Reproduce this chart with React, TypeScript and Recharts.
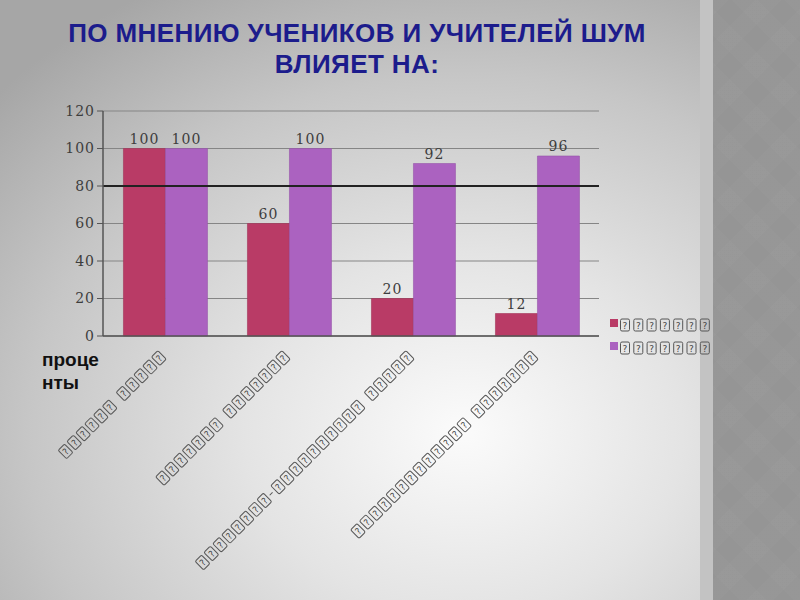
import React from 'react'
import { Bar, BarChart, CartesianGrid, LabelList, Legend, ReferenceLine, XAxis, YAxis } from 'recharts'

// category names came through as unreadable glyphs in the source slide
const categories = ['?????? ?????', '??????? ???????', '????????-?????????? ?????', '????????????? ???????']
const pupils = [100, 60, 20, 12]
const teachers = [100, 100, 92, 96]
const seriesNames = ['???????', '???????']
const yTicks = [0, 20, 40, 60, 80, 100, 120]
const edgeTicks = [0, 1, 2, 3, 4]

const COLORS = { pupils: '#b93b66', teachers: '#ab62c0', text: '#3d3d3d', grid: '#858585', axis: '#555' }

const data = categories.map((name, i) => ({ name, pupils: pupils[i], teachers: teachers[i] }))

// draws a string as the "missing glyph" boxes seen in the reference
function BoxChars({
  text,
  x,
  y,
  rotate = 0,
  anchor = 'start',
  step = 12.5,
}: {
  text: string
  x: number
  y: number
  rotate?: number
  anchor?: 'start' | 'end'
  step?: number
}) {
  const charStep = (c: string) => (c === ' ' || c === '-' ? 7 : step)
  const chars = text.split('')
  const total = chars.reduce((s, c) => s + charStep(c), 0)
  let pos = anchor === 'end' ? -total : 0
  const items = chars.map((c, i) => {
    const px = pos
    pos += charStep(c)
    if (c === ' ') return null
    if (c === '-') return <line key={i} x1={px + 1} x2={px + 5} y1={-5} y2={-5} stroke="#555" strokeWidth={1} />
    return (
      <g key={i}>
        <rect x={px + 1.5} y={-11} width={9} height={12} rx={1.5} fill="none" stroke="#555" strokeWidth={1} />
        <text x={px + 6} y={-1.5} fontSize={9} textAnchor="middle" fill="#444" fontFamily="DejaVu Sans">?</text>
      </g>
    )
  })
  return <g transform={`translate(${x},${y}) rotate(${rotate})`}>{items}</g>
}

function CategoryTick(props: any) {
  const { x, y, payload } = props
  return <BoxChars text={payload.value} x={x + 2} y={y + 13} rotate={-45} anchor="end" />
}

function EmptyTick() {
  return <g />
}

function LegendContent() {
  const fills = [COLORS.pupils, COLORS.teachers]
  return (
    <svg width={110} height={40} style={{ overflow: 'visible' }}>
      {seriesNames.map((n, i) => (
        <g key={i}>
          <rect x={0} y={3 + i * 23} width={8} height={8} fill={fills[i]} />
          <BoxChars text={n} x={9} y={14 + i * 23} step={13.3} />
        </g>
      ))}
    </svg>
  )
}

const tickFont = { fontSize: 14, fill: COLORS.text, fontFamily: 'DejaVu Serif', letterSpacing: 1 }

export default function App() {
  return (
    <div
      style={{
        position: 'absolute',
        left: 0,
        top: 0,
        width: 800,
        height: 600,
        overflow: 'hidden',
        background: 'radial-gradient(ellipse 78% 85% at 58% 72%, #fbfbfb 0%, #e4e4e4 35%, #c6c6c6 70%, #a6a6a6 100%)',
      }}
    >
      <div style={{ position: 'absolute', left: 700, top: 0, width: 13, height: 600, background: '#c3c3c3' }} />
      <div
        style={{
          position: 'absolute',
          left: 713,
          top: 0,
          width: 87,
          height: 600,
          backgroundColor: '#979797',
          backgroundImage:
            'repeating-linear-gradient(45deg, rgba(0,0,0,0.008) 0 19px, rgba(255,255,255,0.008) 19px 38px), repeating-linear-gradient(-45deg, rgba(0,0,0,0.008) 0 19px, rgba(255,255,255,0.008) 19px 38px)',
        }}
      />
      <div
        style={{
          position: 'absolute',
          left: 0,
          top: 18,
          width: 714,
          textAlign: 'center',
          fontFamily: '"Liberation Sans", Arial, sans-serif',
          fontWeight: 'bold',
          fontSize: 26,
          letterSpacing: 0.4,
          lineHeight: '31px',
          color: '#1c1c8c',
        }}
      >
        ПО МНЕНИЮ УЧЕНИКОВ И УЧИТЕЛЕЙ ШУМ
        <br />
        ВЛИЯЕТ НА:
      </div>
      <div
        style={{
          position: 'absolute',
          left: 42,
          top: 348,
          fontFamily: '"Liberation Sans", Arial, sans-serif',
          fontWeight: 'bold',
          fontSize: 19,
          lineHeight: '23px',
          color: '#111',
        }}
      >
        проце
        <br />
        нты
      </div>
      <div style={{ position: 'absolute', left: 0, top: 0 }}>
        <BarChart
          width={800}
          height={600}
          data={data}
          margin={{ top: 111, right: 201, left: 43, bottom: 0 }}
          barCategoryGap="16.5%"
          barGap={0}
        >
          <CartesianGrid vertical={false} stroke={COLORS.grid} strokeWidth={1.2} />
          <XAxis xAxisId="edges" type="number" domain={[0, 4]} ticks={edgeTicks} height={0} axisLine={false} tick={<EmptyTick />} tickLine={{ stroke: COLORS.axis }} tickSize={5} />
          <XAxis dataKey="name" height={264} interval={0} tick={<CategoryTick />} tickLine={false} axisLine={{ stroke: COLORS.axis, strokeWidth: 1.5 }} />
          <YAxis
            domain={[0, 120]}
            ticks={yTicks}
            width={60}
            tick={tickFont}
            tickSize={6}
            axisLine={{ stroke: COLORS.axis, strokeWidth: 1.5 }}
            tickLine={{ stroke: COLORS.axis }}
          />
          <ReferenceLine y={80} stroke="#222" strokeWidth={2} />
          <Legend
            layout="vertical"
            align="center"
            verticalAlign="middle"
            content={<LegendContent />}
            wrapperStyle={{ left: 610, top: 316, width: 110, height: 40 }}
          />
          <Bar dataKey="pupils" name={seriesNames[0]} fill={COLORS.pupils} stroke="#a33358" strokeWidth={0.6} isAnimationActive={false}>
            <LabelList dataKey="pupils" position="top" offset={5} style={tickFont} />
          </Bar>
          <Bar dataKey="teachers" name={seriesNames[1]} fill={COLORS.teachers} stroke="#9655aa" strokeWidth={0.6} isAnimationActive={false}>
            <LabelList dataKey="teachers" position="top" offset={5} style={tickFont} />
          </Bar>
        </BarChart>
      </div>
    </div>
  )
}
